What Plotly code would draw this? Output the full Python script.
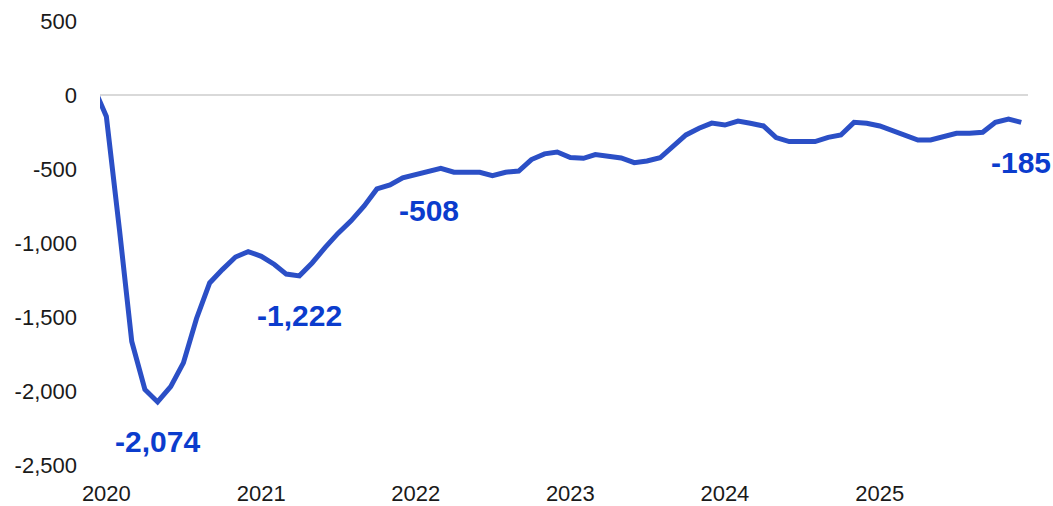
import pandas as pd
import plotly.graph_objects as go

# Monthly dates Dec 2019 .. Dec 2025
months = [d.strftime("%Y-%m-%d") for d in pd.date_range("2019-12-01", "2025-12-01", freq="MS")]

values = [
    60,
    -145, -910, -1665, -1990, -2074, -1970, -1810, -1510, -1270, -1180, -1095, -1058,
    -1090, -1145, -1210, -1222, -1135, -1030, -935, -850, -750, -635, -608, -560,
    -538, -508, -495, -522, -520, -522, -545, -522, -514, -436, -398, -385,
    -423, -428, -403, -412, -425, -457, -446, -424, -345, -270, -225, -190,
    -203, -176, -191, -209, -288, -315, -315, -315, -286, -270, -185, -191,
    -209, -243, -270, -304, -304, -282, -259, -259, -252, -185, -162, -185,
]

year_ticks = ["2020-01-01", "2021-01-01", "2022-01-01", "2023-01-01", "2024-01-01", "2025-01-01"]
year_labels = ["2020", "2021", "2022", "2023", "2024", "2025"]

y_ticks = [500, 0, -500, -1000, -1500, -2000, -2500]
y_tick_labels = ["500", "0", "-500", "-1,000", "-1,500", "-2,000", "-2,500"]

# months to annotate
label_months = ["2020-05-01", "2021-04-01", "2022-02-01", "2025-12-01"]

LINE = "#2b4fc6"
TEXT_BLUE = "#0b3ccd"
FONT = "Liberation Sans, Arial, sans-serif"

fig = go.Figure()
fig.add_trace(go.Scatter(
    x=months, y=values, mode="lines",
    line=dict(color=LINE, width=5),
    hoverinfo="skip", showlegend=False,
))

for m in label_months:
    v = values[months.index(m)]
    fig.add_annotation(
        x=m, y=v, text=f"{v:,}", showarrow=False, yshift=-40,
        font=dict(family=FONT, size=30, color=TEXT_BLUE, weight="bold"),
    )

fig.update_layout(
    width=1053, height=506,
    margin=dict(l=100, r=25, t=21, b=41, autoexpand=False),
    paper_bgcolor="white", plot_bgcolor="white",
    font=dict(family=FONT, size=22, color="#1a1a1a"),
    xaxis=dict(
        type="date", range=["2019-12-17", "2025-12-17"],
        tickvals=year_ticks, ticktext=year_labels,
        showgrid=False, zeroline=False, showline=False, ticks="",
        ticklabelstandoff=13, automargin=False,
    ),
    yaxis=dict(
        range=[-2500, 500], tickvals=y_ticks, ticktext=y_tick_labels,
        showgrid=False, zeroline=True, zerolinecolor="#d9d9d9", zerolinewidth=2,
        showline=False, ticks="", ticklabelstandoff=22, automargin=False,
    ),
)

fig.write_html(
    "out.html",
    config={"displayModeBar": False, "staticPlot": True},
    post_script="document.body.style.margin='0';document.body.style.overflow='hidden';",
)
